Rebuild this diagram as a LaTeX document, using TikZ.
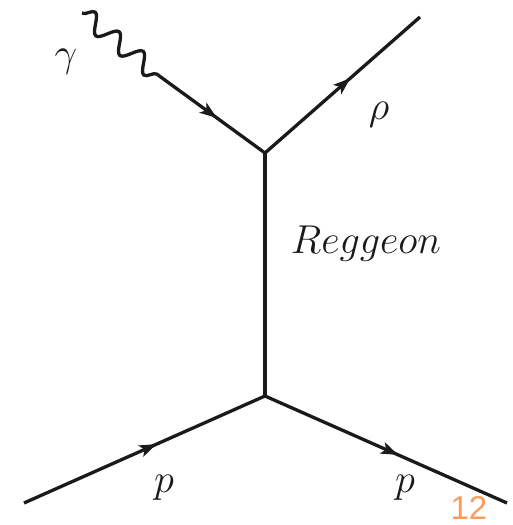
\documentclass[tikz,border=0pt]{standalone}
\usepackage{fontspec}
\newfontfamily\numfont{Liberation Sans}
\usetikzlibrary{decorations.pathmorphing,decorations.markings,arrows.meta}
\definecolor{lineblack}{HTML}{1A1A1A}
\definecolor{pageorange}{HTML}{FF9A5C}
\tikzset{
  fermion/.style={draw=lineblack, line width=3.3pt, postaction={decorate},
    decoration={markings, mark=at position 0.55 with {\arrow[lineblack]{Stealth[length=17pt,width=12pt,inset=4pt]}}}},
  photon/.style={draw=lineblack, line width=3.3pt, decorate,
    decoration={snake, segment length=31pt, amplitude=9pt}},
  plain/.style={draw=lineblack, line width=3.3pt},
  lbl/.style={font=\Huge, scale=1.62, text=lineblack, inner sep=0pt},
}
\begin{document}
\begin{tikzpicture}[x=1pt,y=-1pt]
\useasboundingbox (0,0) rectangle (512,525);
\coordinate (g0) at (82,13);
\coordinate (g1) at (158,75);
\coordinate (v1) at (265,153);
\coordinate (rho) at (420,17);
\coordinate (v2) at (265,396);
\coordinate (p1) at (24,503);
\coordinate (p2) at (507,503);
\draw[photon] (g0) -- (g1);
\draw[fermion] (g1) -- (v1);
\draw[fermion] (v1) -- (rho);
\draw[plain] (v1) -- (v2);
\draw[fermion] (p1) -- (v2);
\draw[fermion] (v2) -- (p2);
\node[lbl] (lg) at (66,62) {$\gamma$};
\node[lbl] (lrho) at (379,115) {$\rho$};
\node[lbl] (lreg) at (366,244) {$Reggeon$};
\node[lbl] (lp1) at (164,488) {$p$};
\node[lbl] (lp2) at (405,488) {$p$};
\node[font=\numfont\fontsize{33}{38}\selectfont, text=pageorange, inner sep=0pt] (num) at (469,508) {12};
\end{tikzpicture}
\end{document}
